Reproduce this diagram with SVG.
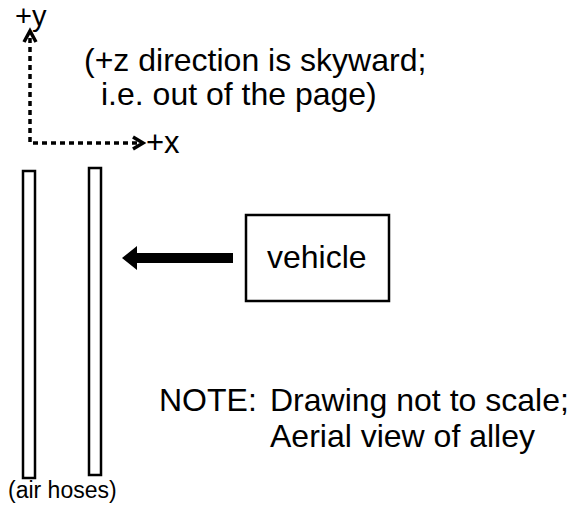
<svg xmlns="http://www.w3.org/2000/svg" width="569" height="508" viewBox="0 0 569 508">
<style>
text{font-family:"Liberation Sans",Arial,sans-serif;fill:#000}
.big{font-size:32px}
.small{font-size:23px}
.dash{stroke:#000;stroke-width:3.5;stroke-dasharray:5 4;fill:none}
.hose{fill:#fff;stroke:#000;stroke-width:2.5}
</style>
<rect width="569" height="508" fill="#fff"/>
<g id="axes">
<text x="15" y="26" style="font-size:29px">+y</text>
<path class="dash" d="M30 38 V143 H138"/>
<path d="M24 42 L30 31 L36 42" fill="none" stroke="#000" stroke-width="3.5"/>
<path d="M133 137 L143 143 L133 149" fill="none" stroke="#000" stroke-width="3.5"/>
<text x="146" y="153" style="font-size:31px">+x</text>
</g>
<g id="note-z">
<text class="big" x="84" y="71">(+z direction is skyward;</text>
<text class="big" x="101" y="105">i.e. out of the page)</text>
</g>
<g id="hose1"><rect class="hose" x="23" y="171" width="12" height="307"/></g>
<g id="hose2"><rect class="hose" x="89" y="168" width="12" height="307"/></g>
<g id="hose-label"><text class="small" x="8" y="498">(air hoses)</text></g>
<g id="vehicle">
<rect x="246" y="215" width="143" height="86" fill="#fff" stroke="#000" stroke-width="2.5"/>
<text x="267" y="268" style="font-size:32px">vehicle</text>
</g>
<g id="connectors">
<path d="M233 253 H137 V246 L122 258 L137 270 V263 H233 Z" fill="#000"/>
</g>
<g id="note">
<text class="big" x="159" y="411">NOTE:</text>
<text class="big" x="270" y="411">Drawing not to scale;</text>
<text class="big" x="270" y="447">Aerial view of alley</text>
</g>
</svg>
